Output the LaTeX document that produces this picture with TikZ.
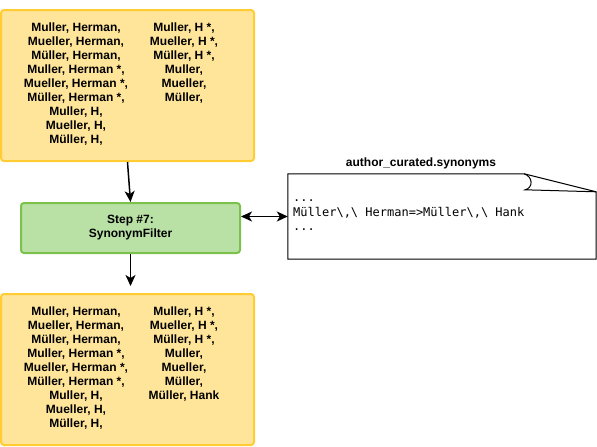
\documentclass[tikz,border=0pt]{standalone}
\usepackage{fontspec}
\setmainfont{Liberation Sans}
\setmonofont{DejaVu Sans Mono}
\usetikzlibrary{arrows.meta}
\definecolor{namefill}{HTML}{FFE599}
\definecolor{namedraw}{HTML}{FFCC33}
\definecolor{stepfill}{HTML}{B9E0A5}
\definecolor{stepdraw}{HTML}{7BC14B}
\begin{document}
\begin{tikzpicture}[x=1pt, y=-1pt]
      \tikzstyle{names}=[draw=namedraw, fill=namefill, line width=2pt, rounded corners=3pt,
                         minimum width=253pt, minimum height=151pt]
      \tikzstyle{stepbox}=[draw=stepdraw, fill=stepfill, line width=2pt, rounded corners=3pt,
                           minimum width=219pt, minimum height=50pt, align=center,
                           font=\fontsize{12}{14}\selectfont\bfseries]
      \tikzstyle{column}=[inner sep=0pt, align=center, anchor=north,
                          font=\fontsize{12}{14}\selectfont\bfseries]
      \tikzstyle{notebox}=[draw=black, line width=1pt, line join=miter]
      \tikzstyle{arrow}=[line width=1.5pt, -{Stealth[length=11pt, width=10pt, inset=3pt]}]
      \tikzstyle{twoway}=[line width=1.5pt,
                          {Stealth[length=11pt, width=10pt, inset=3pt]}-{Stealth[length=11pt, width=10pt, inset=3pt]}]
      \useasboundingbox (0,0) rectangle (597,447);

      \node[names] (before) at (127.5, 85.5) {};
      \node[column] (beforeL) at (76, 22.5) {Muller, Herman,\\Mueller, Herman,\\Müller, Herman,\\
        Muller, Herman *,\\Mueller, Herman *,\\Müller, Herman *,\\Muller, H,\\Mueller, H,\\Müller, H,};
      \node[column] (beforeR) at (184, 22.5) {Muller, H *,\\Mueller, H *,\\Müller, H *,\\
        Muller,\\Mueller,\\Müller,};

      \node[stepbox] (step) at (130.5, 228) {Step \#7:\\SynonymFilter};

      \node[names] (after) at (127.5, 369.5) {};
      \node[column] (afterL) at (76, 306.5) {Muller, Herman,\\Mueller, Herman,\\Müller, Herman,\\
        Muller, Herman *,\\Mueller, Herman *,\\Müller, Herman *,\\Muller, H,\\Mueller, H,\\Müller, H,};
      \node[column] (afterR) at (184, 306.5) {Muller, H *,\\Mueller, H *,\\Müller, H *,\\
        Muller,\\Mueller,\\Müller,\\Müller, Hank};

      % synonyms file
      \node[minimum width=308pt, minimum height=85pt] (note) at (442, 216.5) {};
      \draw[notebox] (note.north west) -- ([xshift=-72pt]note.north east)
        -- ([yshift=-18pt]note.north east) -- (note.south east) -- (note.south west) -- cycle;
      \draw[notebox] ([xshift=-72pt]note.north east)
        .. controls ([xshift=-63pt, yshift=-3pt]note.north east)
        and ([xshift=-63pt, yshift=-14pt]note.north east)
        .. ([xshift=-71pt, yshift=-16pt]note.north east)
        -- ([yshift=-18pt]note.north east);
      \node[inner sep=0pt, anchor=north west, align=left,
            font=\fontsize{12}{14.5}\selectfont\ttfamily] (notetext) at (293, 191.3)
        {\strut...\\Müller\textbackslash,\textbackslash\ Herman=>Müller\textbackslash,\textbackslash\ Hank\\...};
      \node[font=\fontsize{12}{14}\selectfont\bfseries] (notename) at (421, 163) {author\_curated.synonyms};

      \draw[arrow] (before.south) to (step.north);
      \draw[arrow, shorten >=7pt] (step.south) to (step.south |- after.north);
      \draw[twoway] (note.west -| step.east) to (note.west);
    \end{tikzpicture}
\end{document}
